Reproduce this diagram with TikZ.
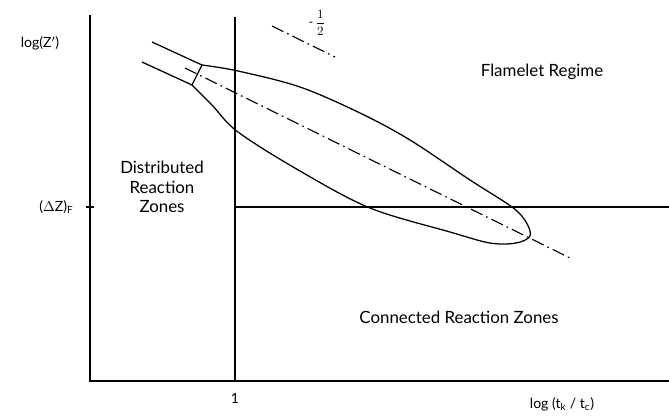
\documentclass[tikz,border=0pt]{standalone}
\usepackage{fontspec}
\setmainfont{Lato}
\usetikzlibrary{calc}
\tikzset{
  ax/.style={line width=1pt},
  curve/.style={line width=0.9pt, line join=round},
  dashdot/.style={line width=0.8pt, dash pattern=on 9pt off 3pt on 1.2pt off 3pt},
  lbl/.style={font=\large, inner sep=1pt},
  sml/.style={font=\normalsize, inner sep=1pt},
}
\begin{document}
\begin{tikzpicture}[x=0.025cm, y=-0.025cm]
    \useasboundingbox (0,0) rectangle (669,416);
    % axes and regime borders
    \coordinate (top) at (90,15);
    \coordinate (org) at (90,381);
    \coordinate (xend) at (669,381);
    \coordinate (one) at (235,381);
    \coordinate (dzf) at (90,207);
    \draw[ax] (top) -- (org) -- (xend);
    \draw[ax] (one) -- (235,17);
    \draw[ax] (235,207) -- (669,207);
    \draw[ax] ($(dzf)+(-4,0)$) -- ($(dzf)+(4,0)$);
    % flame zone
    \draw[curve] (152,42) -- (202,65);
    \draw[curve] (142,62) -- (192,85);
    \draw[curve] (192,85) -- (202,65);
    \draw[curve] plot[smooth, tension=0.55] coordinates {(202,65) (238,71) (300,87) (360,113) (410,140) (470,180) (512,207) (526,222) (530,236) (516,243) (490,243) (450,232) (370,208) (300,171) (238,132) (212,105) (192,85)};
    \draw[dashdot] (185,68) -- (570,258);
    \draw[dashdot] (272,26) -- (335,57);
    % labels
    \node[sml] (slope) at (317,23) {\small -\,$\displaystyle\frac{1}{2}$};
    \node[sml] (ylab) at (40,43) {log(Z$'$)};
    \node[sml, anchor=east] (dzlab) at (75,207) {($\Delta$Z)$_{\mathrm{F}}$};
    \node[sml] (onelab) at (235,398) {1};
    \node[sml] (xlab) at (562,404) {log (t$_\mathrm{k}$ / t$_\mathrm{c}$)};
    \node[lbl, align=center] (dist) at (162,187) {Distributed\\Reaction\\Zones};
    \node[lbl] (flam) at (542,72) {Flamelet Regime};
    \node[lbl] (conn) at (459,317) {Connected Reaction Zones};
\end{tikzpicture}
\end{document}
